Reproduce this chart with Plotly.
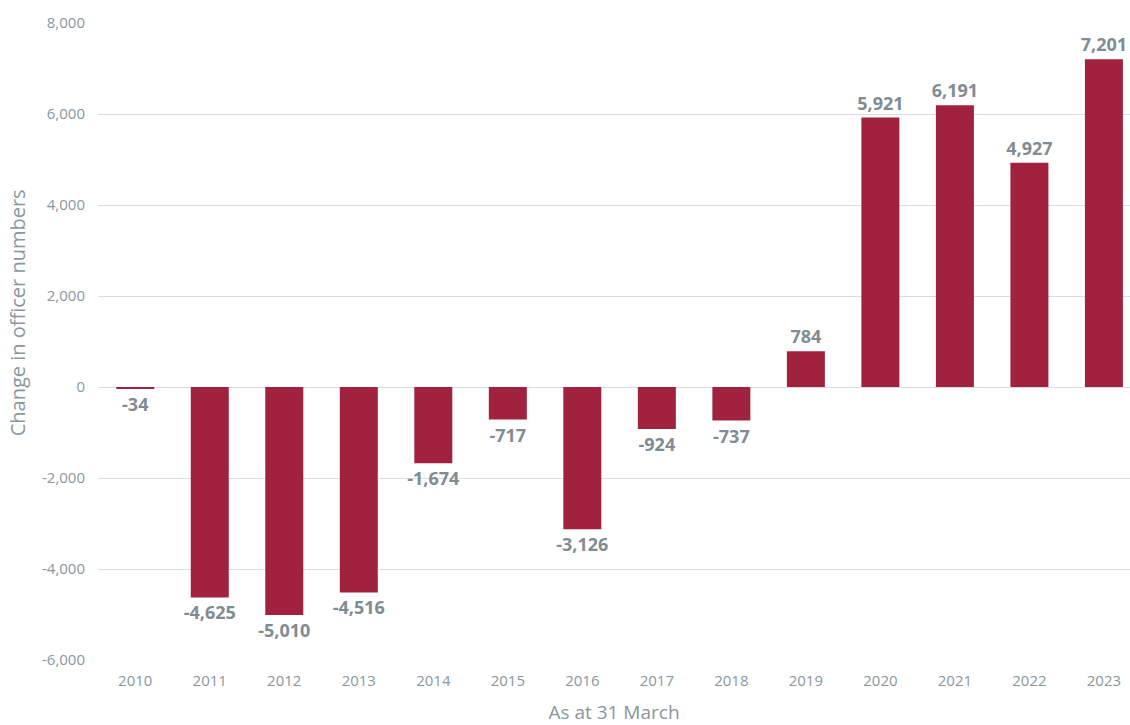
import plotly.graph_objects as go

# officer number change by year (as at 31 March)
years = ["2010", "2011", "2012", "2013", "2014", "2015", "2016",
         "2017", "2018", "2019", "2020", "2021", "2022", "2023"]
change = [-34, -4625, -5010, -4516, -1674, -717, -3126,
          -924, -737, 784, 5921, 6191, 4927, 7201]

y_ticks = [-6000, -4000, -2000, 0, 2000, 4000, 6000, 8000]
y_tick_labels = ["-6,000", "-4,000", "-2,000", "0", "2,000", "4,000", "6,000", "8,000"]

grey = "#7f8c93"
tick_grey = "#8a979e"
bar_colour = "#a0223f"
font = "Open Sans, sans-serif"

labels = [f"{v:,}" for v in change]

fig = go.Figure(go.Bar(
    x=years,
    y=change,
    marker=dict(color=bar_colour, line=dict(width=0)),
    text=labels,
    textposition="outside",
    constraintext="none",
    cliponaxis=False,
    textfont=dict(family=font, size=18, color=grey, weight="bold"),
    width=0.51,
))

fig.update_layout(
    width=1130,
    height=725,
    autosize=False,
    margin=dict(l=98, r=0, t=23, b=65),
    plot_bgcolor="white",
    paper_bgcolor="white",
    showlegend=False,
    font=dict(family=font, color=tick_grey),
    xaxis=dict(
        type="category",
        range=[-0.5, 13.35],
        showgrid=False,
        showline=False,
        ticks="",
        ticklabelstandoff=10,
        tickfont=dict(size=15, color=tick_grey),
        title=dict(text="As at 31 March", font=dict(size=19, color=tick_grey), standoff=16),
    ),
    yaxis=dict(
        range=[-6000, 8000],
        tickvals=y_ticks,
        ticktext=y_tick_labels,
        showgrid=True,
        gridcolor="#dcdcdc",
        gridwidth=1,
        zeroline=True,
        zerolinecolor="#dcdcdc",
        zerolinewidth=1,
        ticks="",
        ticklabelstandoff=12,
        tickfont=dict(size=15, color=tick_grey),
    ),
    annotations=[dict(
        text="Change in officer numbers",
        xref="paper", yref="paper",
        x=-0.078, y=0.545,
        xanchor="center", yanchor="middle",
        textangle=-90,
        showarrow=False,
        font=dict(family=font, size=20, color=tick_grey),
    )],
)

fig.write_html("out.html", config={"displayModeBar": False},
               post_script="document.body.style.margin='0';")
